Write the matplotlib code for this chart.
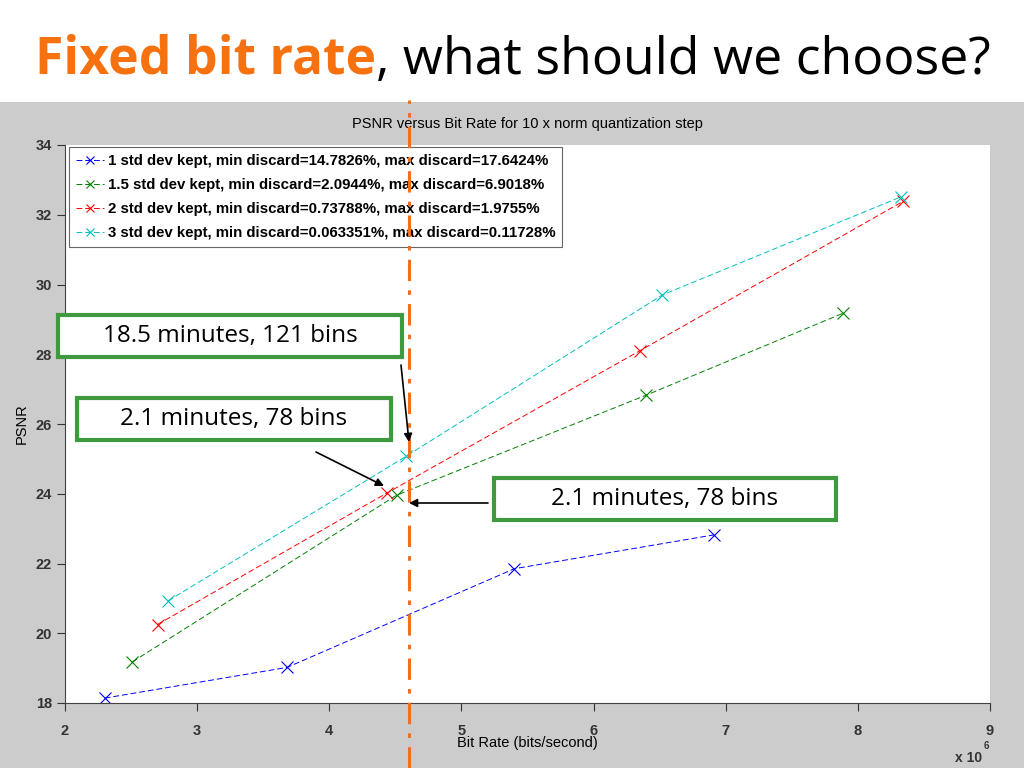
import matplotlib
matplotlib.use("Agg")
import matplotlib.pyplot as plt
import matplotlib.transforms as mtransforms
from matplotlib.patches import Rectangle

# PSNR vs bit rate data (bit rate in units of 1e6 bits/second)
rate_1std = [2.30, 3.68, 5.40, 6.91]
psnr_1std = [18.14, 19.02, 21.85, 22.82]
rate_15std = [2.51, 4.51, 6.40, 7.89]
psnr_15std = [19.18, 23.96, 26.83, 29.18]
rate_2std = [2.70, 4.44, 6.35, 8.34]
psnr_2std = [20.25, 24.03, 28.10, 32.38]
rate_3std = [2.78, 4.58, 6.52, 8.33]
psnr_3std = [20.93, 25.07, 29.70, 32.52]

labels = [
    "1 std dev kept, min discard=14.7826%, max discard=17.6424%",
    "1.5 std dev kept, min discard=2.0944%, max discard=6.9018%",
    "2 std dev kept, min discard=0.73788%, max discard=1.9755%",
    "3 std dev kept, min discard=0.063351%, max discard=0.11728%",
]
colors = ["#0000ff", "#008000", "#ff0000", "#00bfbf"]

chosen_rate = 4.60
xticks = [2, 3, 4, 5, 6, 7, 8, 9]
yticks = [18, 20, 22, 24, 26, 28, 30, 32, 34]

box_texts = ["18.5 minutes, 121 bins", "2.1 minutes, 78 bins", "2.1 minutes, 78 bins"]

fig = plt.figure(figsize=(10.24, 7.68), dpi=100)
fig.patch.set_facecolor("white")

# gray slide area under the title
fig.patches.append(Rectangle((0, 0), 1, (768 - 102) / 768, transform=fig.transFigure,
                             facecolor="#cccccc", edgecolor="none", zorder=-10))

# slide title in two colours
title_font = dict(fontsize=37.3, family="Open Sans", va="baseline")
t1 = fig.text(35 / 1024, 1 - 74 / 768, "Fixed bit rate", color="#f7710f",
              fontweight="bold", **title_font)
fig.canvas.draw()
bb = t1.get_window_extent()
fig.text(bb.x1 / fig.bbox.width, 1 - 74 / 768, ", what should we choose?",
         color="black", **title_font)

ax = fig.add_axes([65 / 1024, 1 - 703 / 768, 925 / 1024, 558 / 768])
ax.set_facecolor("white")

series = [(rate_1std, psnr_1std), (rate_15std, psnr_15std),
          (rate_2std, psnr_2std), (rate_3std, psnr_3std)]
for (xs, ys), c, lab in zip(series, colors, labels):
    ax.plot(xs, ys, linestyle=(0, (6, 3)), linewidth=0.7, color=c,
            marker="x", markersize=8, markeredgewidth=0.8, label=lab)

ax.set_xlim(2, 9)
ax.set_ylim(18, 34)
ax.set_xticks(xticks)
ax.set_yticks(yticks)
ax.tick_params(direction="out", length=6, width=0.8, labelsize=10.5, colors="#333333")
ax.tick_params(axis="x", pad=9)
for lbl in ax.get_xticklabels() + ax.get_yticklabels():
    lbl.set_fontweight("bold")
    lbl.set_family("Liberation Sans")
for side in ["top", "right"]:
    ax.spines[side].set_visible(False)
for side in ["left", "bottom"]:
    ax.spines[side].set_color("#444444")

ax.set_title("PSNR versus Bit Rate for 10 x norm quantization step",
             fontsize=10.5, family="Liberation Sans", pad=12)
ax.set_xlabel("Bit Rate (bits/second)", fontsize=10.5, family="Liberation Sans", labelpad=-1)
ax.set_ylabel("PSNR", fontsize=10.5, family="Liberation Sans", labelpad=5)
fig.text(955 / 1024, 1 - 762 / 768, "x 10", fontsize=10, fontweight="bold",
         family="Liberation Sans", color="#333333")
fig.text(984 / 1024, 1 - 749 / 768, "6", fontsize=7, fontweight="bold",
         family="Liberation Sans", color="#333333")

leg = ax.legend(loc="upper left", bbox_to_anchor=(4 / 925, 1 - 2 / 558), borderaxespad=0,
                prop={"weight": "bold", "size": 10.8, "family": "Liberation Sans"},
                handlelength=1.9, handletextpad=0.25, borderpad=0.45, labelspacing=0.68,
                markerscale=0.8, fancybox=False, framealpha=1, edgecolor="#666666",
                numpoints=1)
leg.get_frame().set_linewidth(0.8)

# orange dash-dot marker line across the whole slide area
trans = mtransforms.blended_transform_factory(ax.transData, fig.transFigure)
ax.plot([chosen_rate, chosen_rate], [0, (768 - 100) / 768], transform=trans,
        color="#f07020", linewidth=2.2, linestyle=(0, (7, 3, 1.5, 3)),
        clip_on=False, zorder=10)

# annotation boxes (figure pixel positions)
boxes = [(58, 315, 402, 357), (77, 398, 391, 440), (494, 478, 836, 520)]
for (x0, y0, x1, y1), txt in zip(boxes, box_texts):
    fig.patches.append(Rectangle((x0 / 1024, 1 - y1 / 768), (x1 - x0) / 1024, (y1 - y0) / 768,
                                 transform=fig.transFigure, facecolor="white",
                                 edgecolor="#3f9a3f", linewidth=3, zorder=20))
    fig.text((x0 + x1) / 2 / 1024, 1 - (y0 + y1) / 2 / 768, txt, ha="center", va="center",
             fontsize=17.5, family="Open Sans", color="black", zorder=21)

arrows = [((401, 365), (409, 442)), ((316, 452), (384, 486)), ((488, 503), (409, 503))]
for (sx, sy), (ex, ey) in arrows:
    ax.annotate("", xy=(ex / 1024, 1 - ey / 768), xycoords="figure fraction",
                xytext=(sx / 1024, 1 - sy / 768), textcoords="figure fraction",
                arrowprops=dict(arrowstyle="-|>", color="black", linewidth=1.2,
                                mutation_scale=12, shrinkA=0, shrinkB=0),
                annotation_clip=False, zorder=22)

fig.savefig("out.png", dpi=100)
